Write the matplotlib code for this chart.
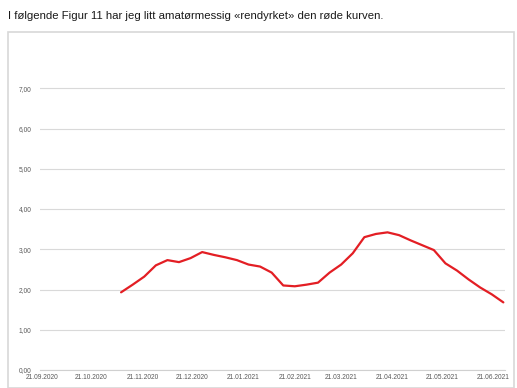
import numpy as np
import pandas as pd
import matplotlib
matplotlib.use("Agg")
import matplotlib.pyplot as plt
import matplotlib.dates as mdates
from matplotlib.patches import Rectangle

# weekly values of the smoothed red curve
start_week = "2020-11-08"
values = [1.93, 2.12, 2.32, 2.60, 2.73, 2.68, 2.78, 2.93, 2.86, 2.80,
          2.73, 2.62, 2.57, 2.42, 2.10, 2.08, 2.12, 2.17, 2.42, 2.62,
          2.90, 3.30, 3.38, 3.42, 3.35, 3.22, 3.10, 2.98, 2.65, 2.47,
          2.25, 2.05, 1.88, 1.68]
dates = pd.date_range(start_week, periods=len(values), freq="7D")

tick_dates = ["2020-09-21", "2020-10-21", "2020-11-21", "2020-12-21", "2021-01-21",
              "2021-02-21", "2021-03-21", "2021-04-21", "2021-05-21", "2021-06-21"]
y_ticks = [0, 1, 2, 3, 4, 5, 6, 7]
caption = "I følgende Figur 11 har jeg litt amatørmessig «rendyrket» den røde kurven."

W, H = 517, 388
fig = plt.figure(figsize=(W / 100, H / 100), dpi=100)
plt.rcParams['font.family'] = ['Liberation Sans', 'DejaVu Sans']

fig.text(8 / W, 1 - 16 / H, caption, fontsize=8.2, va="center", ha="left", color="#1a1a1a")

# chart frame
fig.patches.append(Rectangle((8 / W, 0), 506 / W, 1 - 32 / H, transform=fig.transFigure,
                             fill=False, edgecolor="#d8d8d8", lw=1.2))

# axes: left 40px, right 505px, bottom 370px, top 48px
ax = fig.add_axes([40 / W, 1 - 370 / H, 465 / W, 322 / H])
ax.plot(dates, values, color="#e31e24", lw=1.6, solid_capstyle="round")

ax.set_ylim(0, 8)
ax.set_yticks(y_ticks)
ax.set_yticklabels([f"{v:.2f}".replace(".", ",") for v in y_ticks])
ax.set_xlim(pd.Timestamp("2020-09-20"), pd.Timestamp("2021-06-28"))
ax.set_xticks(pd.to_datetime(tick_dates))
ax.xaxis.set_major_formatter(mdates.DateFormatter("%d.%m.%Y"))

ax.grid(axis="y", color="#d9d9d9", lw=0.8)
ax.set_axisbelow(True)
for s in ["top", "right", "left"]:
    ax.spines[s].set_visible(False)
ax.spines["bottom"].set_color("#d0d0d0")
ax.spines["bottom"].set_linewidth(0.8)
ax.tick_params(axis="both", length=0, labelsize=4.8, labelcolor="#595959")
ax.tick_params(axis="y", pad=6)
ax.tick_params(axis="x", pad=3)

fig.savefig("out.png", dpi=100)
